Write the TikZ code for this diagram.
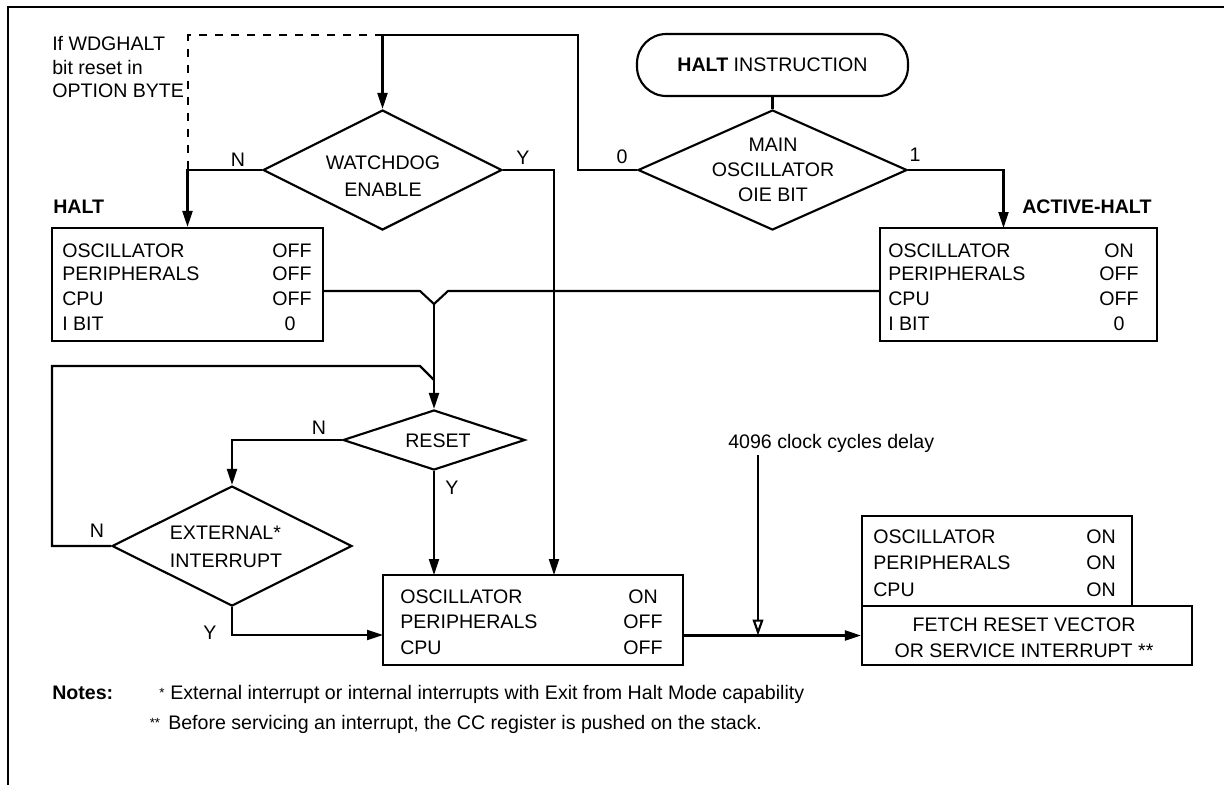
\documentclass[tikz,border=0pt]{standalone}
\usepackage{fontspec}
\setmainfont{Liberation Sans}
\usetikzlibrary{shapes.geometric,arrows.meta}
\newcommand\boxrow[6]{%
  \node[t, anchor=base west] (#6a) at (#1,#3) {#4};
  \node[t, anchor=base] (#6b) at (#2,#3) {#5};}
\begin{document}
\begin{tikzpicture}[x=0.75pt,y=-0.75pt,
  font=\fontsize{14.7}{18}\selectfont,
  ln/.style={line width=1.6pt, line join=miter},
  arr/.style={ln,-{Triangle[length=12pt,width=7.5pt]}},
  openarr/.style={ln,-{Triangle[open,length=12pt,width=8pt]}},
  t/.style={inner sep=0pt},
  boxwh/.style 2 args={draw, ln, rectangle, inner sep=0pt, minimum width=#1*0.75pt, minimum height=#2*0.75pt},
  dia/.style 2 args={draw, ln, diamond, inner sep=0pt, minimum width=#1*0.75pt, minimum height=#2*0.75pt},
  term/.style 2 args={draw, ln, rectangle, rounded corners=22pt, inner sep=0pt, minimum width=#1*0.75pt, minimum height=#2*0.75pt},
  dsh/.style={line width=1.6pt, dash pattern=on 6pt off 6pt}
]
\useasboundingbox (0,0) rectangle (1224,785);
% frame
\draw[line width=1.8pt] (1224,7) -- (8,7) -- (8,785);

% top texts
\node[t, anchor=base west] (wdg1) at (52,50) {If WDGHALT};
\node[t, anchor=base west] (wdg2) at (52,74) {bit reset in};
\node[t, anchor=base west] (wdg3) at (52,97) {OPTION BYTE};

% terminal
\node[term={271}{62}] (hi) at (772.5,65) {\textbf{HALT} INSTRUCTION};

% diamonds
\node[dia={269}{120}] (mo) at (772.5,170) {};
\node[t, align=center, font=\fontsize{14.7}{18.75}\selectfont] (mot) at (773,170) {MAIN\\OSCILLATOR\\OIE BIT};
\node[dia={239}{120}] (wd) at (382.5,170) {};
\node[t, align=center, font=\fontsize{14.7}{20.5}\selectfont] (wdt) at (383,176) {WATCHDOG\\ENABLE};
\node[dia={182}{60}] (rs) at (434,440) {};
\node[t] (rst) at (438,441) {RESET};
\node[dia={240}{120}] (ex) at (232,546) {};
\node[t, align=left, font=\fontsize{14.7}{21}\selectfont] (ext) at (226,547) {EXTERNAL*\\INTERRUPT};

% HALT box
\node[t, anchor=base west] (haltlbl) at (53,213) {\textbf{HALT}};
\node[boxwh={271}{113}] (halt) at (187.5,284.5) {};
\boxrow{62}{292}{257}{OSCILLATOR}{OFF}{h1}
\boxrow{62}{292}{280}{PERIPHERALS}{OFF}{h2}
\boxrow{62}{292}{305}{CPU}{OFF}{h3}
\boxrow{62}{290}{330}{I BIT}{0}{h4}

% ACTIVE-HALT box
\node[t, anchor=base west] (ahlbl) at (1022,213) {\textbf{ACTIVE-HALT}};
\node[boxwh={277}{113}] (ah) at (1018.5,284.5) {};
\boxrow{888}{1119}{257}{OSCILLATOR}{ON}{a1}
\boxrow{888}{1119}{280}{PERIPHERALS}{OFF}{a2}
\boxrow{888}{1119}{305}{CPU}{OFF}{a3}
\boxrow{888}{1119}{330}{I BIT}{0}{a4}

% bottom middle box
\node[boxwh={300}{90}] (bot) at (533,620) {};
\boxrow{400}{643}{603.5}{OSCILLATOR}{ON}{b1}
\boxrow{400}{643}{628}{PERIPHERALS}{OFF}{b2}
\boxrow{400}{643}{654}{CPU}{OFF}{b3}

% right boxes
\node[boxwh={270}{90}] (on) at (997,561) {};
\boxrow{873}{1101}{543}{OSCILLATOR}{ON}{c1}
\boxrow{873}{1101}{569}{PERIPHERALS}{ON}{c2}
\boxrow{873}{1101}{596}{CPU}{ON}{c3}
\node[boxwh={330}{59}, fill=white] (fe) at (1027,635.5) {};
\node[t, align=center, font=\fontsize{14.7}{19.5}\selectfont] (fet) at (1024,637.5) {FETCH RESET VECTOR\\OR SERVICE INTERRUPT **};

% labels
\node[t] (lN1) at (238,160) {N};
\node[t] (lY1) at (523,158) {Y};
\node[t] (l0) at (622,157) {0};
\node[t] (l1) at (915,155) {1};
\node[t] (lN2) at (319,428) {N};
\node[t] (lY2) at (452,488) {Y};
\node[t] (lN3) at (97,531) {N};
\node[t] (lY3) at (210,633) {Y};
\node[t, anchor=base west] (dl) at (728,448) {4096 clock cycles delay};

% coordinates
\coordinate (wdtop) at (382.5,35);
\coordinate (ahin) at (1003.5,228);
\coordinate (botin1) at (434,575);
\coordinate (botin2) at (554,575);
\coordinate (botin3) at (383,635);
\coordinate (m1) at (420,291);
\coordinate (mv) at (434,304);
\coordinate (m2) at (448,291);
\coordinate (lp) at (420,366);
\coordinate (lv) at (434,380);
\coordinate (d0) at (758,455);

% connectors
\draw[ln] (hi.south) -- (mo.north);
\draw[arr] (mo.west) -| (578,35) -- (wdtop) -- (wd.north);
\draw[dsh] (wdtop) -| (188,170);
\draw[arr] (wd.west) -| (halt.north);
\draw[arr] (wd.east) -| (botin2);
\draw[arr] (mo.east) -| (ahin);
\draw[ln] (halt.east |- m1) -- (m1) -- (mv) -- (m2) -- (ah.west |- m2);
\draw[arr] (mv) -- (rs.north);
\draw[ln] (ex.west) -| (52,366) -- (lp) -- (lv);
\draw[arr] (rs.west) -| (ex.north);
\draw[arr] (rs.south) -- (botin1);
\draw[arr] (ex.south) |- (botin3);
\draw[arr] (bot.east |- fe.west) -- (fe.west);
\draw[openarr] (d0) -- (d0 |- fe.west);

% notes
\node[t, anchor=base west] (notes) at (52,699) {\textbf{Notes:}};
\node[t, anchor=base] (st1) at (162,697) {\fontsize{10}{10}\selectfont *};
\node[t, anchor=base west] (n1) at (170,699) {External interrupt or internal interrupts with Exit from Halt Mode capability};
\node[t, anchor=base] (st2) at (155,727) {\fontsize{10}{10}\selectfont **};
\node[t, anchor=base west] (n2) at (168,729) {Before servicing an interrupt, the CC register is pushed on the stack.};
\end{tikzpicture}
\end{document}
